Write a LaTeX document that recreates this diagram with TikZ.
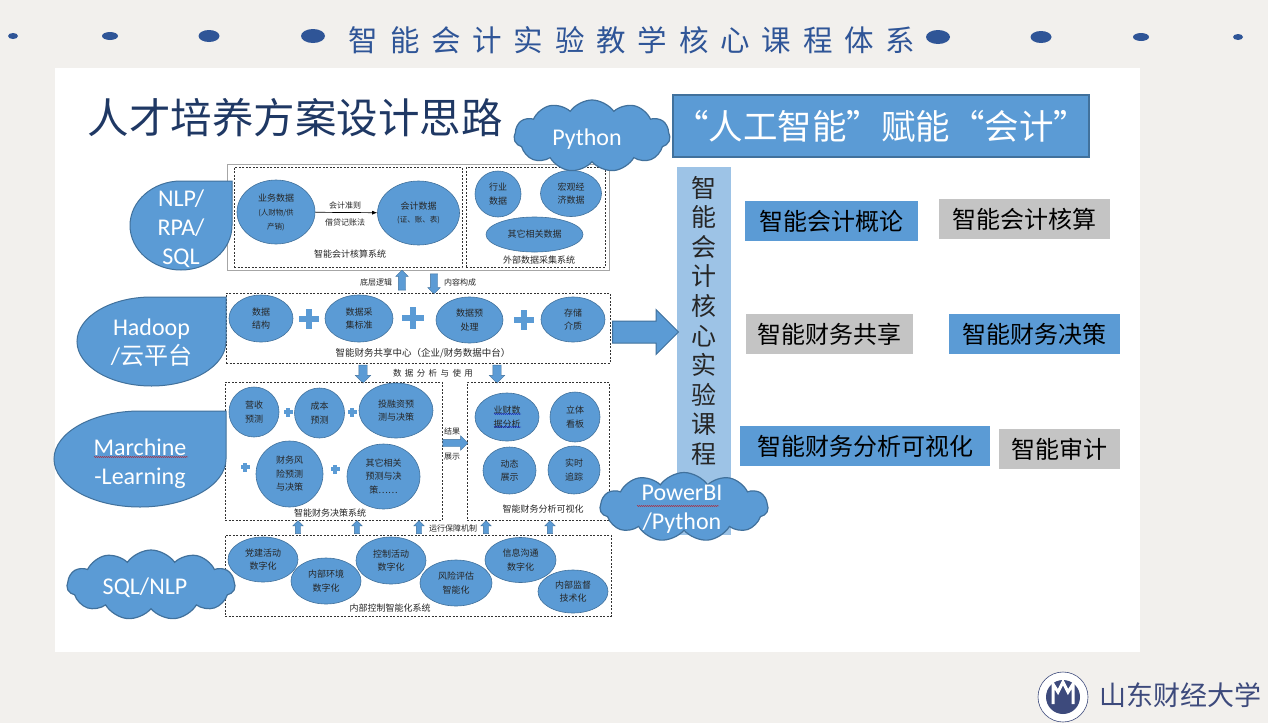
\documentclass[tikz,border=0pt]{standalone}
\usepackage{fontspec}
\setmainfont{Noto Sans CJK SC}
\newfontfamily\latinfont{Carlito}
\newfontfamily\cjkfont{Noto Sans CJK SC}
\newfontfamily\spacedfont[LetterSpace=40]{Noto Sans CJK SC}
\usetikzlibrary{shapes.geometric,shapes.symbols,shapes.arrows,arrows.meta,decorations.pathmorphing}
\definecolor{blobfill}{HTML}{5B9BD5}
\definecolor{blobline}{HTML}{41719C}
\definecolor{pagebg}{HTML}{F2F0ED}
\definecolor{dotblue}{HTML}{2F5597}
\definecolor{barblue}{HTML}{9DC3E6}
\definecolor{boxgray}{HTML}{C4C4C4}
\definecolor{inkblue}{HTML}{1F3864}
\definecolor{logoblue}{HTML}{3D4A7C}
\newcommand{\fsz}[2]{\fontsize{#1}{#2}\selectfont}
\newcommand{\plussign}[4]{%
	\fill[blobfill] ({#1-#3},{#2-#4}) rectangle ({#1+#3},{#2+#4});
	\fill[blobfill] ({#1-#4},{#2-#3}) rectangle ({#1+#4},{#2+#3});}
\newcommand{\teardrop}[4]{%
	\draw[tearshape] ({#1+#3},{#2-#4}) -- ({#1+#3},#2)
	.. controls ({#1+#3},{#2+.55*#4}) and ({#1+.55*#3},{#2+#4}) .. (#1,{#2+#4})
	.. controls ({#1-.55*#3},{#2+#4}) and ({#1-#3},{#2+.55*#4}) .. ({#1-#3},#2)
	.. controls ({#1-#3},{#2-.55*#4}) and ({#1-.55*#3},{#2-#4}) .. (#1,{#2-#4}) -- cycle;}
\tikzset{
	blob/.style={ellipse,draw=blobline,fill=blobfill,line width=.6pt,inner sep=0pt,align=center,text=black!85,font=\fsz{9}{13.5}},
	dashbox/.style={draw=black!80,line width=.6pt,dash pattern=on 2pt off 1.5pt,minimum width=#1},
	tearshape/.style={draw=blobline,fill=blobfill,line width=1pt},
	techlabel/.style={text=white,align=center,inner sep=0pt,font=\latinfont\fsz{24}{29}},
	cloudtag/.style={cloud,cloud puffs=11,cloud puff arc=110,aspect=2.2,draw=blobline,fill=blobfill,line width=1.2pt,inner sep=0pt},
	sysname/.style={inner sep=0pt,text=black!85,font=\fsz{9}{11}},
	fatarrow/.style={single arrow,draw=blobline,fill=blobfill,line width=.4pt,inner xsep=0pt,inner ysep=3.5pt,minimum width=12pt,single arrow head extend=2.5pt},
	course/.style={inner sep=0pt,minimum height=40pt,text=black,font=\fsz{24}{28}},
}
\begin{document}
\begin{tikzpicture}[x=1pt,y=-1pt]
	\useasboundingbox (0,0) rectangle (1268,723);
	\fill[pagebg] (0,0) rectangle (1268,723);
	\fill[white] (55,68) rectangle (1140,652);
	% banner
	\fill[dotblue] (13,36) ellipse [x radius=5pt,y radius=3pt];
	\fill[dotblue] (110,36) ellipse [x radius=8pt,y radius=4pt];
	\fill[dotblue] (209,36) ellipse [x radius=10.5pt,y radius=6pt];
	\fill[dotblue] (313,36) ellipse [x radius=12pt,y radius=7pt];
	\fill[dotblue] (938,37) ellipse [x radius=12pt,y radius=7pt];
	\fill[dotblue] (1041,37) ellipse [x radius=10.5pt,y radius=6pt];
	\fill[dotblue] (1141,37) ellipse [x radius=8pt,y radius=4pt];
	\fill[dotblue] (1238,37) ellipse [x radius=5pt,y radius=3pt];
	\node[inner sep=0pt,text=dotblue,font=\spacedfont\fsz{29.5}{34}] (banner) at (632,40) {智能会计实验教学核心课程体系};
	\node[inner sep=0pt,text=inkblue,font=\fsz{41.5}{48}] (heading) at (295,118) {人才培养方案设计思路};
	% accounting layer
	\node[draw=black!35,line width=1pt,minimum width=382pt,minimum height=106pt] (acctouter) at (418,217) {};
	\node[dashbox=228pt,minimum height=100pt] (acctbox) at (348,217) {};
	\node[dashbox=139pt,minimum height=100pt] (extbox) at (535.5,217) {};
	\node[blob,minimum width=78pt,minimum height=64pt] (bizdata) at (276,212) {业务数据\\[1pt]{\fsz{7.5}{12}(人财物/供}\\{\fsz{7.5}{12}产销)}};
	\node[blob,minimum width=82pt,minimum height=64pt] (acctdata) at (418.5,213) {会计数据\\{\fsz{7.5}{12}(证、账、表)}};
	\draw[-{Latex[length=5pt,width=4pt]},line width=.7pt] (bizdata) -- (acctdata);
	\node[sysname,font=\fsz{8}{10}] (rulelabel) at (345,205) {会计准则};
	\node[sysname,font=\fsz{8}{10}] (debitlabel) at (345,222) {借贷记账法};
	\node[sysname] (acctname) at (350,254) {智能会计核算系统};
	\node[blob,minimum width=46pt,minimum height=46pt] (industry) at (498,194) {行业\\数据};
	\node[blob,minimum width=61pt,minimum height=46pt] (macro) at (571,193.5) {宏观经\\济数据};
	\node[blob,minimum width=97pt,minimum height=35pt] (otherdata) at (534.5,234.5) {其它相关数据};
	\node[sysname] (extname) at (539,260) {外部数据采集系统};
	% links to sharing centre
	\node[fatarrow,rotate=90,minimum height=20pt] (logicup) at (402,282) {};
	\node[fatarrow,rotate=-90,minimum height=20pt] (contentdown) at (434,282) {};
	\node[sysname,font=\fsz{8}{10}] (logiclabel) at (376,282.5) {底层逻辑};
	\node[sysname,font=\fsz{8}{10}] (contentlabel) at (460,282.5) {内容构成};
	% sharing centre
	\node[dashbox=384pt,minimum height=70pt] (sharebox) at (418,328) {};
	\node[blob,minimum width=64pt,minimum height=47pt] (structure) at (261,318.5) {数据\\结构};
	\node[blob,minimum width=68pt,minimum height=47pt] (standard) at (359,318.5) {数据采\\集标准};
	\node[blob,minimum width=67pt,minimum height=46pt] (prepare) at (469.5,320) {数据预\\处理};
	\node[blob,minimum width=64pt,minimum height=45pt] (storage) at (573,319.5) {存储\\介质};
	\plussign{309}{319}{10}{3}
	\plussign{413}{318}{11}{3}
	\plussign{524}{320}{10}{3}
	\node[sysname,font=\fsz{9.5}{11}] (sharename) at (423,353) {智能财务共享中心（企业/财务数据中台）};
	\node[fatarrow,rotate=-90,minimum height=18pt,minimum width=15pt,inner ysep=4pt,single arrow head extend=3.5pt] (usedownl) at (363,372) {};
	\node[fatarrow,rotate=-90,minimum height=18pt,minimum width=15pt,inner ysep=4pt,single arrow head extend=3.5pt] (usedownr) at (497,372) {};
	\node[sysname,font=\spacedfont\fsz{8.5}{10}] (uselabel) at (433,373) {数据分析与使用};
	% decision system
	\node[dashbox=217pt,minimum height=138pt] (decisionbox) at (333.5,451) {};
	\node[blob,minimum width=50pt,minimum height=50pt] (revenue) at (254,412) {营收\\预测};
	\node[blob,minimum width=50pt,minimum height=50pt] (cost) at (319.5,413) {成本\\预测};
	\node[blob,minimum width=74pt,minimum height=55pt] (invest) at (396,410.5) {投融资预\\测与决策};
	\node[blob,minimum width=67pt,minimum height=66pt] (risk) at (289.5,474) {财务风\\险预测\\与决策};
	\node[blob,minimum width=73pt,minimum height=65pt] (otherpred) at (383.5,476.5) {其它相关\\预测与决\\策……};
	\plussign{288}{412}{4.5}{1.7}
	\plussign{352}{412}{4.5}{1.7}
	\plussign{245}{467}{4.5}{1.7}
	\plussign{335}{469}{4.5}{1.7}
	\node[sysname] (decisionname) at (330,513) {智能财务决策系统};
	% visual system
	\node[dashbox=142pt,minimum height=138pt] (visualbox) at (538,451) {};
	\node[fatarrow,minimum height=25pt,minimum width=14pt,single arrow head extend=3.5pt] (showarrow) at (453.5,443) {};
	\node[sysname,font=\fsz{8}{10}] (resultlabel) at (452,431) {结果};
	\node[sysname,font=\fsz{8}{10}] (showlabel) at (452,457) {展示};
	\node[blob,minimum width=64pt,minimum height=48pt] (bizanalysis) at (507,417) {业财数\\据分析};
	\draw[blue!70!black,line width=.4pt,decorate,decoration={snake,amplitude=.4pt,segment length=2pt}] (494,414) -- (521,414);
	\draw[blue!70!black,line width=.4pt,decorate,decoration={snake,amplitude=.4pt,segment length=2pt}] (494,427) -- (521,427);
	\node[blob,minimum width=50pt,minimum height=50pt] (board) at (575,417) {立体\\看板};
	\node[blob,minimum width=53pt,minimum height=47pt] (dynamic) at (509.5,470.5) {动态\\展示};
	\node[blob,minimum width=52pt,minimum height=48pt] (tracking) at (574,470) {实时\\追踪};
	\node[sysname] (visualname) at (543,509) {智能财务分析可视化};
	% control system
	\node[fatarrow,rotate=90,minimum height=13pt,minimum width=10pt,inner ysep=2.5pt] (ctrlupa) at (298,528.5) {};
	\node[fatarrow,rotate=90,minimum height=13pt,minimum width=10pt,inner ysep=2.5pt] (ctrlupb) at (357,528.5) {};
	\node[fatarrow,rotate=90,minimum height=13pt,minimum width=10pt,inner ysep=2.5pt] (ctrlupc) at (419,528.5) {};
	\node[fatarrow,rotate=90,minimum height=13pt,minimum width=10pt,inner ysep=2.5pt] (ctrlupd) at (486,528.5) {};
	\node[fatarrow,rotate=90,minimum height=13pt,minimum width=10pt,inner ysep=2.5pt] (ctrlupe) at (550,528.5) {};
	\node[sysname,font=\fsz{8}{10}] (ctrllabel) at (453,528) {运行保障机制};
	\node[dashbox=386pt,minimum height=81pt] (ctrlbox) at (418,575.5) {};
	\node[blob,minimum width=70pt,minimum height=45pt] (party) at (263,559.5) {党建活动\\数字化};
	\node[blob,minimum width=70pt,minimum height=46pt] (environ) at (326,581) {内部环境\\数字化};
	\node[blob,minimum width=70pt,minimum height=47pt] (control) at (391,560.5) {控制活动\\数字化};
	\node[blob,minimum width=72pt,minimum height=46pt] (riskeval) at (456,583) {风险评估\\智能化};
	\node[blob,minimum width=71pt,minimum height=45pt] (inform) at (520.5,560) {信息沟通\\数字化};
	\node[blob,minimum width=70pt,minimum height=43pt] (monitor) at (573,591.5) {内部监督\\技术化};
	\node[sysname] (ctrlname) at (390,608) {内部控制智能化系统};
	% right column
	\node[draw=blobline,fill=blobfill,line width=1.2pt,minimum width=416pt,minimum height=62pt,inner sep=0pt,text=white,font=\fsz{34.5}{40}] (slogan) at (881,126) {“人工智能”赋能“会计”};
	\node[fill=barblue,minimum width=54pt,minimum height=368pt,inner sep=0pt,anchor=north] (corebar) at (704,167) {};
	\node[inner sep=0pt,text=black!85,align=center,anchor=north,font=\fsz{25}{29.55}] (corename) at (704,176) {智\\能\\会\\计\\核\\心\\实\\验\\课\\程};
	\node[fatarrow,minimum height=66pt,minimum width=44pt,inner ysep=10.5pt,single arrow head extend=11.5pt,line width=1pt] (bigarrow) at (640,332) {};
	\node[course,fill=blobfill,minimum width=173pt] (intro) at (831.5,221) {智能会计概论};
	\node[course,fill=boxgray,minimum width=171pt] (booking) at (1024.5,219) {智能会计核算};
	\node[course,fill=boxgray,minimum width=167pt] (sharing) at (829,334) {智能财务共享};
	\node[course,fill=blobfill,minimum width=171pt] (deciding) at (1034.5,334) {智能财务决策};
	\node[course,fill=blobfill,minimum width=250pt] (visualcourse) at (865,446) {智能财务分析可视化};
	\node[course,fill=boxgray,minimum width=121pt] (audit) at (1059.5,449) {智能审计};
	% tool tags
	\teardrop{181}{225.5}{51}{44.5}
	\node[techlabel] (nlptag) at (181,229) {NLP/\\RPA/\\SQL};
	\teardrop{151.5}{341.5}{74.5}{44.5}
	\node[techlabel] (hadooptag) at (151.5,343) {Hadoop\\/{\cjkfont 云平台}};
	\teardrop{140}{459}{86}{48}
	\node[techlabel] (learntag) at (140,464) {Marchine\\-Learning};
	\draw[red!80!black,line width=.4pt,decorate,decoration={snake,amplitude=.4pt,segment length=2pt}] (94,457) -- (188,457);
	\node[cloudtag,minimum width=156pt,minimum height=72pt] (pythoncloud) at (592,136) {};
	\node[techlabel] (pythontag) at (587,139) {Python};
	\node[cloudtag,minimum width=168pt,minimum height=69pt] (powercloud) at (684,507) {};
	\node[techlabel] (powertag) at (682,509) {PowerBI\\/Python};
	\draw[red!80!black,line width=.4pt,decorate,decoration={snake,amplitude=.4pt,segment length=2pt}] (637,506) -- (719,506);
	\node[cloudtag,minimum width=168pt,minimum height=70pt] (sqlcloud) at (151,585) {};
	\node[techlabel] (sqltag) at (145,588) {SQL/NLP};
	% logo
	\draw[logoblue,line width=.6pt,fill=white] (1063,697) circle [radius=25pt];
	\fill[logoblue] (1063,697) circle [radius=17pt];
	\draw[white,line width=3pt] (1053,704) -- (1053,684) -- (1058,692) -- (1063,682) -- (1068,692) -- (1073,684) -- (1073,704);
	\node[inner sep=0pt,text=logoblue,font=\fsz{27}{30}] (schoolname) at (1180,695) {山东财经大学};
\end{tikzpicture}
\end{document}
